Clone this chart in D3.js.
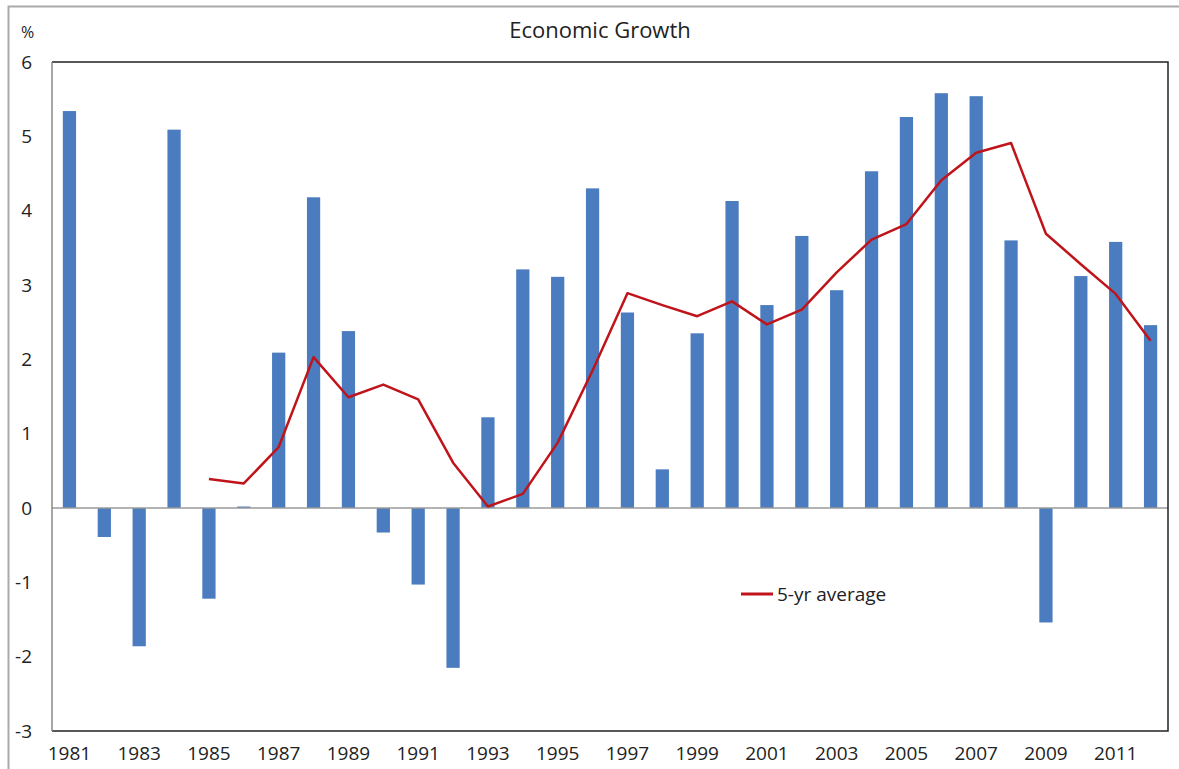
<!DOCTYPE html>
<html>
<head>
<meta charset="utf-8">
<script src="https://cdn.jsdelivr.net/npm/d3@7"></script>
<style>
  body { margin: 0; background: #fff; }
  svg text { font-family: "Open Sans", "Noto Sans", sans-serif; fill: #222; }
</style>
</head>
<body>
<div id="container"></div>
<script>
const years = d3.range(1981, 2013);
const growth = [5.34, -0.39, -1.86, 5.09, -1.22, 0.02, 2.09, 4.18, 2.38, -0.33,
  -1.03, -2.15, 1.22, 3.21, 3.11, 4.30, 2.63, 0.52, 2.35, 4.13,
  2.73, 3.66, 2.93, 4.53, 5.26, 5.58, 5.54, 3.60, -1.54, 3.12,
  3.58, 2.46];
const avgYears = d3.range(1985, 2013);
const avg5 = [0.39, 0.33, 0.82, 2.03, 1.49, 1.66, 1.46, 0.61, 0.02, 0.19,
  0.88, 1.85, 2.89, 2.73, 2.58, 2.78, 2.47, 2.67, 3.17, 3.61,
  3.82, 4.41, 4.78, 4.91, 3.69, 3.28, 2.88, 2.25];
const yTicks = [-3, -2, -1, 0, 1, 2, 3, 4, 5, 6];
const xTickYears = years.filter(y => y % 2 === 1);

const W = 1179, H = 769;
const margin = {top: 62, right: 11, bottom: 38, left: 52};
const width = W - margin.left - margin.right;
const height = H - margin.top - margin.bottom;

const svg = d3.select("#container")
  .append("svg")
  .attr("width", W)
  .attr("height", H);

// outer frame
svg.append("rect")
  .attr("x", 8.5).attr("y", 6.5)
  .attr("width", W + 10).attr("height", H + 10)
  .attr("fill", "none")
  .attr("stroke", "#aaa")
  .attr("stroke-width", 2);

const g = svg.append("g")
  .attr("transform", `translate(${margin.left},${margin.top})`);

const x = d3.scaleBand()
  .domain(years)
  .range([0, width])
  .paddingInner(0.62)
  .paddingOuter(0.31);

const y = d3.scaleLinear()
  .domain([-3, 6])
  .range([height, 0]);

// bars
g.selectAll(".bar")
  .data(years.map((yr, i) => ({year: yr, value: growth[i]})))
  .join("rect")
  .attr("class", "bar")
  .attr("x", d => x(d.year))
  .attr("width", x.bandwidth())
  .attr("y", d => y(Math.max(0, d.value)))
  .attr("height", d => Math.abs(y(d.value) - y(0)))
  .attr("fill", "#4a7cbf");

// zero line
g.append("line")
  .attr("x1", 0).attr("x2", width)
  .attr("y1", y(0)).attr("y2", y(0))
  .attr("stroke", "#9a9a9a")
  .attr("stroke-width", 1.5);

// 5-yr average
const line = d3.line()
  .x(d => x(d.year) + x.bandwidth() / 2)
  .y(d => y(d.value));

g.append("path")
  .datum(avgYears.map((yr, i) => ({year: yr, value: avg5[i]})))
  .attr("fill", "none")
  .attr("stroke", "#c0141b")
  .attr("stroke-width", 2.5)
  .attr("stroke-linejoin", "round")
  .attr("d", line);

// plot frame
g.append("path")
  .attr("d", `M0,0H${width}V${height}H0`)
  .attr("fill", "none")
  .attr("stroke", "#222")
  .attr("stroke-width", 1.5);
g.append("line")
  .attr("x1", 0).attr("x2", 0)
  .attr("y1", 0).attr("y2", height)
  .attr("stroke", "#888")
  .attr("stroke-width", 1.5);

// y axis labels
g.selectAll(".ytick")
  .data(yTicks)
  .join("text")
  .attr("class", "ytick")
  .attr("x", -20)
  .attr("y", d => y(d))
  .attr("dy", "0.35em")
  .attr("text-anchor", "end")
  .style("font-size", "19px")
  .text(d => d);

svg.append("text")
  .attr("x", 21)
  .attr("y", 38)
  .style("font-size", "16px")
  .text("%");

// x axis labels
g.selectAll(".xtick")
  .data(xTickYears)
  .join("text")
  .attr("class", "xtick")
  .attr("x", d => x(d) + x.bandwidth() / 2)
  .attr("y", height + 29)
  .attr("text-anchor", "middle")
  .style("font-size", "19px")
  .text(d => d);

// title
svg.append("text")
  .attr("x", 600)
  .attr("y", 38)
  .attr("text-anchor", "middle")
  .style("font-size", "22px")
  .text("Economic Growth");

// legend
const legend = svg.append("g")
  .attr("transform", "translate(741,594)");
legend.append("line")
  .attr("x1", 0).attr("x2", 32)
  .attr("stroke", "#c0141b")
  .attr("stroke-width", 3);
legend.append("text")
  .attr("x", 36)
  .attr("dy", "0.35em")
  .style("font-size", "19px")
  .text("5-yr average");
</script>
</body>
</html>
